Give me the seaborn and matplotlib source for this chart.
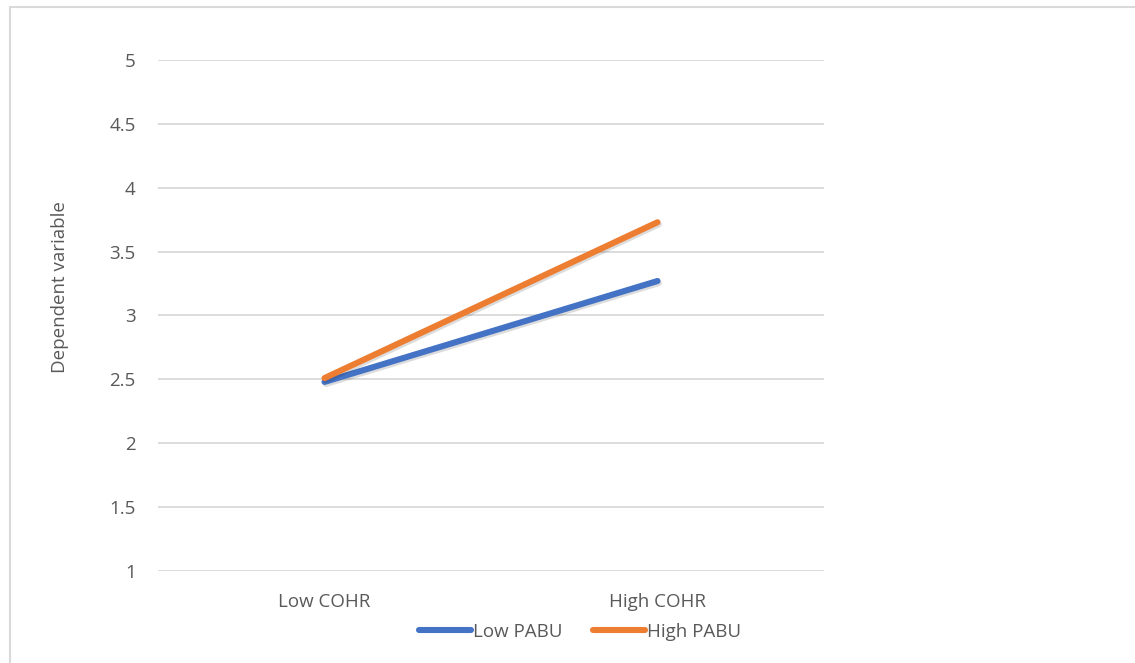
import matplotlib
matplotlib.use("Agg")
import matplotlib.pyplot as plt
import matplotlib.patheffects as pe
import pandas as pd
import seaborn as sns

# Interaction plot data
categories = ["Low COHR", "High COHR"]
low_pabu = [2.48, 3.27]
high_pabu = [2.51, 3.73]
series_names = ["Low PABU", "High PABU"]
y_ticks = [1, 1.5, 2, 2.5, 3, 3.5, 4, 4.5, 5]
y_tick_labels = ["1", "1.5", "2", "2.5", "3", "3.5", "4", "4.5", "5"]

df = pd.DataFrame({
    "cohr": categories * 2,
    "value": low_pabu + high_pabu,
    "group": [series_names[0]] * 2 + [series_names[1]] * 2,
})

sns.set_theme(style="white")
plt.rcParams["font.family"] = ["Open Sans", "DejaVu Sans"]

text_color = "#595959"
grid_color = "#d9d9d9"
palette = {"Low PABU": "#4472c4", "High PABU": "#ed7d31"}
fs = 13.5

fig = plt.figure(figsize=(11.35, 6.63), dpi=100)
W, H = 1135, 663
ax = fig.add_axes([158 / W, (H - 571) / H, (824 - 158) / W, (571 - 60) / H])

# Outer chart border (only the left and top edges fall inside the image)
fig.patches.append(plt.Rectangle((10 / W, -0.05), 1.2, (H - 7) / H + 0.05,
                                 transform=fig.transFigure, fill=False,
                                 edgecolor="#d9d9d9", linewidth=1.5, zorder=0))

sns.lineplot(data=df, x="cohr", y="value", hue="group", palette=palette,
             hue_order=series_names, linewidth=4.4, ax=ax, sort=False,
             legend=False)
for line in ax.lines:
    line.set_solid_capstyle("round")
    line.set_path_effects([pe.SimpleLineShadow(offset=(1, -1.5), alpha=0.15),
                           pe.Normal()])

ax.set_xlim(-0.5, 1.5)
ax.set_ylim(1, 5)
ax.set_yticks(y_ticks)
ax.set_yticklabels(y_tick_labels)
ax.yaxis.grid(True, color=grid_color, linewidth=1.3)
ax.set_axisbelow(True)
for s in ax.spines.values():
    s.set_visible(False)
ax.tick_params(axis="both", length=0, labelsize=fs, colors=text_color)
ax.tick_params(axis="y", pad=16)
ax.tick_params(axis="x", pad=16)
ax.set_xlabel("")
ax.set_ylabel("Dependent variable", fontsize=fs, color=text_color)
ax.yaxis.set_label_coords(-0.134, 0.555)

handles = [plt.Line2D([0], [0], color=palette[n], linewidth=4.4,
                      solid_capstyle="round") for n in series_names]
fig.legend(handles, series_names, loc="center", bbox_to_anchor=(580 / W, (H - 632) / H),
           ncol=2, frameon=False, fontsize=fs, labelcolor=text_color,
           handlelength=2.8, handletextpad=0.1, columnspacing=1.6)

fig.savefig("out.png", dpi=100, facecolor="white")
